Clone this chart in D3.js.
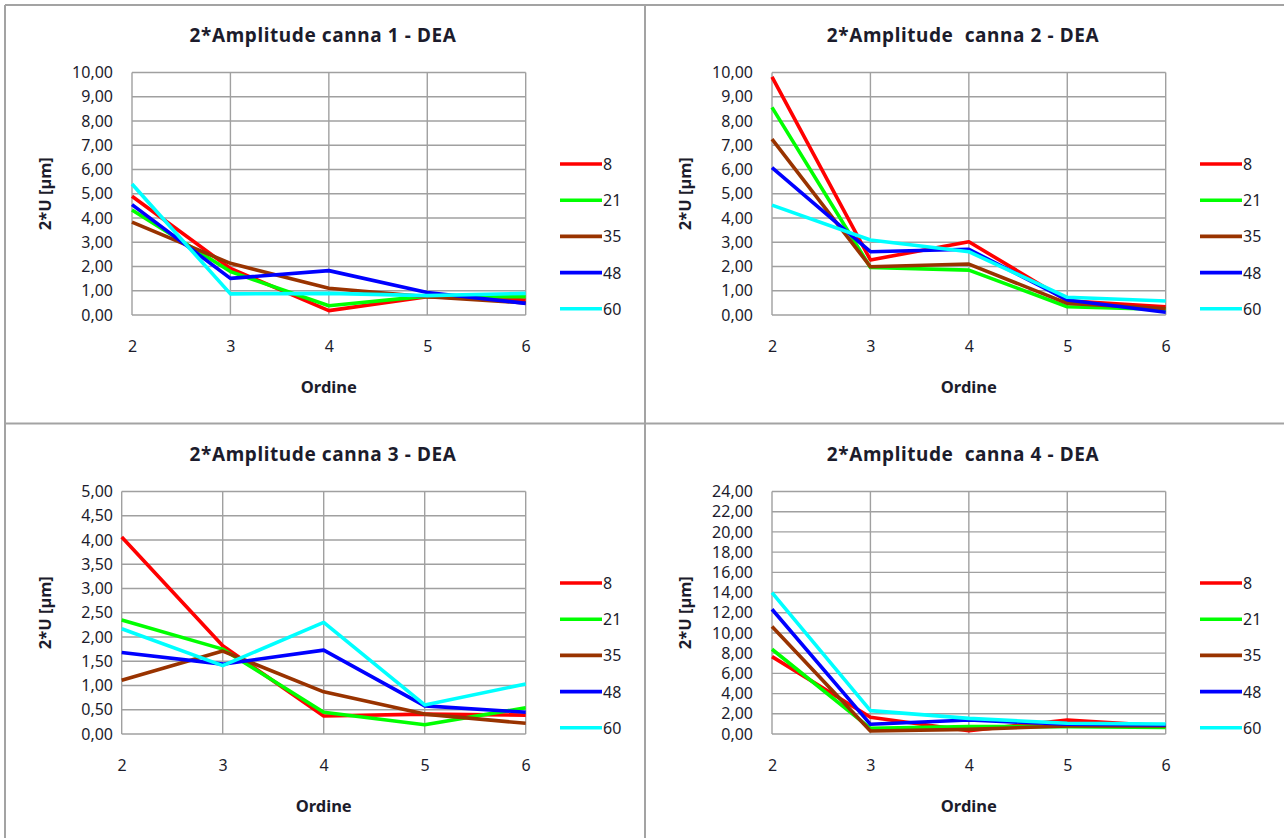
<!DOCTYPE html>
<html>
<head>
<meta charset="utf-8">
<script src="https://cdn.jsdelivr.net/npm/d3@7"></script>
<style>
  html, body { margin: 0; padding: 0; background: #fff; }
  svg { display: block; }
  text { font-family: "Noto Sans", "Open Sans", sans-serif; fill: #1c1c2c; white-space: pre; }
</style>
</head>
<body>
<svg id="chart" width="1284" height="838"></svg>
<script>
// Harmonic orders on the x axis
const orders = [2, 3, 4, 5, 6];

// Series (legend entries) and their colours
const seriesNames = ["8", "21", "35", "48", "60"];
const seriesColors = ["#ff0000", "#00ff00", "#993300", "#0000ff", "#00ffff"];

// 2*U [µm] per series, one row per series, one value per order
const canna1 = [
  [4.90, 1.92, 0.18, 0.75, 0.62],
  [4.33, 1.79, 0.38, 0.78, 0.75],
  [3.83, 2.13, 1.10, 0.75, 0.50],
  [4.55, 1.51, 1.83, 0.93, 0.48],
  [5.40, 0.87, 0.89, 0.80, 0.89]
];
const canna2 = [
  [9.82, 2.27, 3.02, 0.59, 0.34],
  [8.56, 1.96, 1.85, 0.34, 0.23],
  [7.25, 1.99, 2.10, 0.48, 0.27],
  [6.08, 2.61, 2.71, 0.62, 0.11],
  [4.53, 3.09, 2.61, 0.73, 0.58]
];
const canna3 = [
  [4.06, 1.82, 0.37, 0.41, 0.39],
  [2.35, 1.75, 0.45, 0.19, 0.54],
  [1.11, 1.71, 0.87, 0.41, 0.22],
  [1.68, 1.44, 1.73, 0.58, 0.45],
  [2.17, 1.41, 2.30, 0.60, 1.03]
];
const canna4 = [
  [7.66, 1.65, 0.33, 1.39, 0.79],
  [8.39, 0.56, 0.73, 0.73, 0.66],
  [10.63, 0.30, 0.46, 0.79, 0.79],
  [12.35, 0.96, 1.39, 0.96, 0.89],
  [14.00, 2.31, 1.55, 1.06, 0.99]
];

const chartTitles = [
  "2*Amplitude canna 1 - DEA",
  "2*Amplitude  canna 2 - DEA",
  "2*Amplitude canna 3 - DEA",
  "2*Amplitude  canna 4 - DEA"
];
const yMax = [10, 10, 5, 24];
const yStep = [1, 1, 0.5, 2];
const xTitle = "Ordine";
const yTitle = "2*U [µm]";

const chartData = [canna1, canna2, canna3, canna4];

const svg = d3.select("#chart");
const fmt = v => d3.format(".2f")(v).replace(".", ",");

// Panel frames
const frameColor = "#a3a3a3";
const frames = svg.append("g")
  .attr("fill", "none").attr("stroke", frameColor).attr("stroke-width", 2);
frames.append("line").attr("x1", 5).attr("x2", 1284).attr("y1", 5).attr("y2", 5);
frames.append("line").attr("x1", 5).attr("x2", 5).attr("y1", 5).attr("y2", 838);
frames.append("line").attr("x1", 645).attr("x2", 645).attr("y1", 5).attr("y2", 838);
frames.append("line").attr("x1", 5).attr("x2", 1284).attr("y1", 423.5).attr("y2", 423.5);

const panelOrigins = [[5, 5], [645, 5], [5, 424], [645, 424]];

chartData.forEach((rows, ci) => {
  const [ox, oy] = panelOrigins[ci];
  const g = svg.append("g").attr("transform", `translate(${ox},${oy})`);

  const ticks = d3.range(0, yMax[ci] + yStep[ci] / 2, yStep[ci]);
  const labelW = fmt(yMax[ci]).length;
  const plotL = labelW >= 5 ? 127 : 116.7;
  const plotR = 520.7, plotT = 67.5, plotB = 310;
  const labelRight = 108;

  const x = d3.scalePoint().domain(orders).range([plotL, plotR]);
  const y = d3.scaleLinear().domain([0, yMax[ci]]).range([plotB, plotT]);

  // Gridlines
  const grid = g.append("g").attr("stroke", "#a0a0a0").attr("stroke-width", 1.4);
  grid.selectAll("line.h").data(ticks).join("line")
    .attr("class", "h")
    .attr("x1", plotL).attr("x2", plotR)
    .attr("y1", d => y(d)).attr("y2", d => y(d));
  grid.selectAll("line.v").data(orders).join("line")
    .attr("class", "v")
    .attr("x1", d => x(d)).attr("x2", d => x(d))
    .attr("y1", plotT).attr("y2", plotB);

  // Y axis tick labels
  const yAxis = d3.axisLeft(y).tickValues(ticks).tickFormat(fmt)
    .tickSize(0).tickPadding(plotL - labelRight);
  const ya = g.append("g").attr("transform", `translate(${plotL},0)`).call(yAxis);
  ya.select(".domain").remove();
  ya.selectAll("text").attr("font-size", 16).attr("fill", "#1c1c2c")
    .attr("font-family", "\"Noto Sans\", sans-serif");

  // X axis tick labels
  const xAxis = d3.axisBottom(x).tickSize(0).tickPadding(26);
  const xa = g.append("g").attr("transform", `translate(0,${plotB})`).call(xAxis);
  xa.select(".domain").remove();
  xa.selectAll("text").attr("font-size", 16).attr("fill", "#1c1c2c")
    .attr("font-family", "\"Noto Sans\", sans-serif");

  // Series lines, drawn in legend order so the last one sits on top
  const line = d3.line().x((d, i) => x(orders[i])).y(d => y(d));
  g.append("g").selectAll("path").data(rows).join("path")
    .attr("d", d => line(d))
    .attr("fill", "none")
    .attr("stroke", (d, i) => seriesColors[i])
    .attr("stroke-width", 3.6)
    .attr("stroke-linejoin", "round")
    .attr("stroke-linecap", "butt");

  // Titles
  g.append("text")
    .attr("x", 318).attr("y", 30)
    .attr("text-anchor", "middle").attr("dominant-baseline", "central")
    .attr("font-size", 19).attr("font-weight", "bold")
    .attr("letter-spacing", 0.6)
    .text(chartTitles[ci]);
  g.append("text")
    .attr("x", (plotL + plotR) / 2).attr("y", 381)
    .attr("text-anchor", "middle").attr("dominant-baseline", "central")
    .attr("font-size", 16.5).attr("font-weight", "bold")
    .text(xTitle);
  g.append("text")
    .attr("transform", `translate(39,${(plotT + plotB) / 2}) rotate(-90)`)
    .attr("text-anchor", "middle").attr("dominant-baseline", "central")
    .attr("font-size", 16.5).attr("font-weight", "bold")
    .text(yTitle);

  // Legend
  const legend = g.append("g");
  const items = legend.selectAll("g").data(seriesNames).join("g")
    .attr("transform", (d, i) => `translate(555,${159 + i * 36.2})`);
  items.append("line")
    .attr("x1", 0).attr("x2", 42).attr("y1", 0).attr("y2", 0)
    .attr("stroke", (d, i) => seriesColors[i])
    .attr("stroke-width", 3.6);
  items.append("text")
    .attr("x", 43).attr("y", 0)
    .attr("dominant-baseline", "central")
    .attr("font-size", 16)
    .text(d => d);
});
</script>
</body>
</html>
